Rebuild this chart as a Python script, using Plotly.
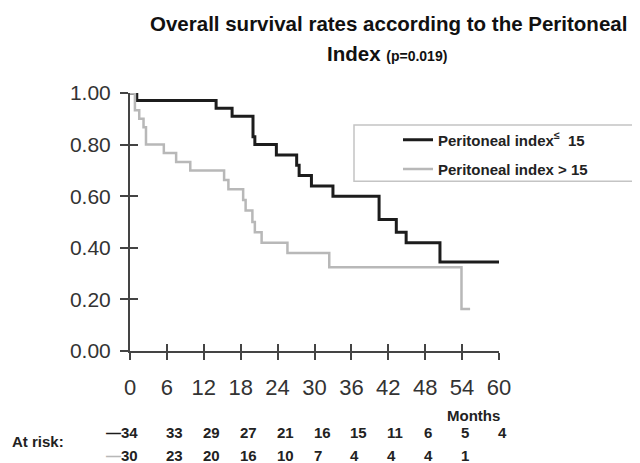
import plotly.graph_objects as go

# ---- data ----
months_ticks = [0, 6, 12, 18, 24, 30, 36, 42, 48, 54, 60]
y_ticks = [0.0, 0.2, 0.4, 0.6, 0.8, 1.0]

low_t = [0, 1.1, 14.0, 16.6, 20.0, 20.3, 23.8, 27.1, 27.5, 29.5, 33.0, 40.5, 43.3, 44.9, 50.4, 60.0]
low_s = [1.0, 0.971, 0.941, 0.91, 0.83, 0.80, 0.76, 0.72, 0.68, 0.64, 0.60, 0.51, 0.46, 0.42, 0.345, 0.345]

high_t = [0, 0.8, 1.5, 2.2, 2.6, 5.5, 7.5, 9.8, 15.3, 16.0, 18.4, 18.8, 19.9, 20.3, 21.4, 25.6, 32.4, 53.9, 55.3]
high_s = [1.0, 0.933, 0.90, 0.867, 0.80, 0.767, 0.733, 0.70, 0.663, 0.627, 0.585, 0.545, 0.50, 0.46, 0.42, 0.38, 0.325, 0.163, 0.163]

risk_low = [34, 33, 29, 27, 21, 16, 15, 11, 6, 5, 4]
risk_high = [30, 23, 20, 16, 10, 7, 4, 4, 4, 1]

name_low = "<b>Peritoneal index<sup>≤</sup>  15</b>"
name_high = "<b>Peritoneal index > 15</b>"

FONT = "Liberation Sans, Arial, sans-serif"
BLACK = "#1c1c1c"
GRAY = "#b8b8b8"
AXC = "#444444"

fig = go.Figure()
fig.add_trace(go.Scatter(x=low_t, y=low_s, mode="lines", line=dict(shape="hv", color=BLACK, width=3),
                         name=name_low, cliponaxis=False, legend="legend"))
fig.add_trace(go.Scatter(x=high_t, y=high_s, mode="lines", line=dict(shape="hv", color=GRAY, width=2.5),
                         name=name_high, cliponaxis=False, legend="legend2"))
fig.add_trace(go.Scatter(x=[None], y=[None], xaxis="x2", yaxis="y2", showlegend=False, hoverinfo="skip"))

# page has an 8px body margin, so the figure is 8px smaller and shifted
OFF = 8
L_REF, R_REF, T_REF, B_REF = 130, 141, 93, 111.5
W, H = 640 - OFF, 463 - OFF
L, T = L_REF - OFF, T_REF - OFF
R, B = R_REF, B_REF
pw, ph = W - L - R, H - T - B

def px(xp):  # reference page pixel -> paper x
    return (xp - L_REF) / pw

def py(yp):  # reference page pixel -> paper y
    return (463 - B_REF - yp) / ph

fig.update_layout(
    template="none",
    width=W, height=H, margin=dict(l=L, r=R, t=T, b=B, pad=0),
    paper_bgcolor="white", plot_bgcolor="white",
    font=dict(family=FONT, color="#333333"),
    xaxis=dict(range=[0, 60], tickvals=months_ticks, ticks="outside", ticklen=7, tickwidth=1.5,
               tickcolor=AXC, showline=True, linecolor=AXC, linewidth=2, showgrid=False, zeroline=False,
               tickfont=dict(size=22, color="#333333"), ticklabelstandoff=9, automargin=False),
    yaxis=dict(range=[0, 1], tickvals=y_ticks, tickformat=".2f", ticks="outside", ticklen=8, tickwidth=1.5,
               tickcolor=AXC, showline=True, linecolor=AXC, linewidth=2, showgrid=False, zeroline=False,
               tickfont=dict(size=21, color="#333333"), ticklabelstandoff=5, automargin=False),
    xaxis2=dict(range=[0, 60], overlaying="x", anchor="y2", side="bottom", tickvals=months_ticks,
                ticks="inside", ticklen=7, tickwidth=1.5, tickcolor=AXC, showticklabels=False,
                showline=False, showgrid=False, zeroline=False, automargin=False),
    yaxis2=dict(range=[0, 1], overlaying="y", anchor="x2", side="left", tickvals=y_ticks,
                ticks="inside", ticklen=8, tickwidth=1.5, tickcolor=AXC, showticklabels=False,
                showline=False, showgrid=False, zeroline=False, automargin=False),
    legend=dict(x=px(398), y=py(140), xanchor="left", yanchor="middle", bgcolor="rgba(0,0,0,0)",
                borderwidth=0, font=dict(size=15, color="#222222", family=FONT), itemwidth=30),
    legend2=dict(x=px(398), y=py(169.5), xanchor="left", yanchor="middle", bgcolor="rgba(0,0,0,0)",
                 borderwidth=0, font=dict(size=15, color="#222222", family=FONT), itemwidth=30),
    showlegend=True,
)

# legend frame
fig.add_shape(type="rect", xref="paper", yref="paper", x0=px(354), x1=px(660), y0=py(181.5), y1=py(125),
              line=dict(color="#c4c4c4", width=1.5), fillcolor="rgba(0,0,0,0)", layer="below")

ann = []
ann.append(dict(text="<b>Overall survival rates according to the Peritoneal</b>", x=px(388), y=py(23),
                xref="paper", yref="paper", xanchor="center", yanchor="middle", showarrow=False,
                font=dict(size=20.5, color="#111111")))
ann.append(dict(text="<b>Index <span style='font-size:14px'>(p=0.019)</span></b>", x=px(387), y=py(53),
                xref="paper", yref="paper", xanchor="center", yanchor="middle", showarrow=False,
                font=dict(size=20.5, color="#111111")))
ann.append(dict(text="<b>Months</b>", x=px(473), y=py(416), xref="paper", yref="paper", xanchor="center",
                yanchor="middle", showarrow=False, font=dict(size=15, color="#222222")))
ann.append(dict(text="<b>At risk:</b>", x=px(10), y=py(442), xref="paper", yref="paper", xanchor="left",
                yanchor="middle", showarrow=False, font=dict(size=15, color="#222222")))

for row, (vals, col, ypix) in enumerate([(risk_low, BLACK, 433), (risk_high, GRAY, 456)]):
    for i, v in enumerate(vals):
        m = months_ticks[i]
        if i == 0:
            ann.append(dict(text=f"<b><span style='color:{col}'>—</span>{v}</b>", x=m, y=py(ypix),
                            xref="x", yref="paper", xanchor="right", yanchor="middle", xshift=10,
                            showarrow=False, font=dict(size=15, color="#222222")))
        else:
            ann.append(dict(text=f"<b>{v}</b>", x=m, y=py(ypix), xref="x", yref="paper", xanchor="left",
                            yanchor="middle", xshift=-3, showarrow=False, font=dict(size=15, color="#222222")))

fig.update_layout(annotations=ann)
fig.write_html("out.html")
